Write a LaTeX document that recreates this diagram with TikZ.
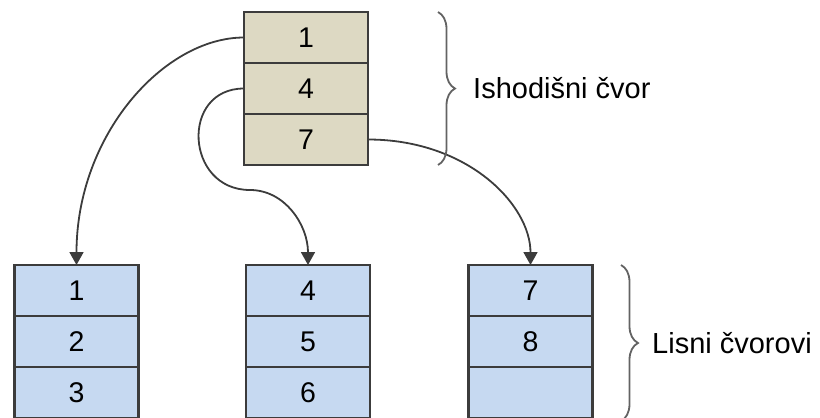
\documentclass[tikz,border=0pt]{standalone}
\usepackage{fontspec}
\setmainfont{Liberation Sans}
\usepackage{tikz}
\usetikzlibrary{positioning, calc, arrows.meta}
\usetikzlibrary{decorations.pathreplacing}
\definecolor{rubcrta}{HTML}{3C3C3C}
\definecolor{korijen}{HTML}{DDD9C3}
\definecolor{list}{HTML}{C6D9F1}

\begin{document}
\begin{tikzpicture}[x=1pt, y=-1pt,
                celija/.style={draw=rubcrta, line width=2.2pt, minimum width=124pt, minimum height=51pt, inner sep=0pt, outer sep=0pt, font=\fontsize{28.5}{33}\selectfont},
                gornja/.style={celija, fill=korijen},
                donja/.style={celija, fill=list},
                veza/.style={draw=rubcrta, line width=1.8pt, -{Triangle[length=13pt,width=14pt]}},
                zagrada/.style={draw=rubcrta!80, line width=1.8pt, decorate, decoration={brace, amplitude=17pt}},
                opis/.style={anchor=west, inner sep=0pt, font=\fontsize{29}{34}\selectfont}]
                \useasboundingbox (0,0) rectangle (820,418);
                \node[gornja] (i1) at (306,37.5) {1};
                \node[gornja, below=0pt of i1] (i4) {4};
                \node[gornja, below=0pt of i4] (i7) {7};
                \node[donja] (l1) at (76.5,290.5) {1};
                \node[donja, below=0pt of l1] (l2) {2};
                \node[donja, below=0pt of l2] (l3) {3};
                \node[donja] (m4) at (308,290.5) {4};
                \node[donja, below=0pt of m4] (m5) {5};
                \node[donja, below=0pt of m5] (m6) {6};
                \node[donja] (r7) at (530.5,290.5) {7};
                \node[donja, below=0pt of r7] (r8) {8};
                \node[donja, below=0pt of r8] (r9) {};
                \coordinate (savij) at (250,190);
                \draw[veza] (i1.west) .. controls +(-80,0) and +(0,-130) .. (l1.north);
                \draw[veza] (i4.west) .. controls +(-64,0) and +(-65,0) .. (savij) .. controls +(35,0) and +(0,-40) .. (m4.north);
                \draw[veza] (i7.east) .. controls +(100,0) and +(0,-60) .. (r7.north);
                \draw[zagrada] (438,12) -- (438,165);
                \node[opis] (ishodisni) at (473,88) {Ishodišni čvor};
                \draw[zagrada] (621,265) -- (621,421);
                \node[opis] (lisni) at (652,343) {Lisni čvorovi};
            \end{tikzpicture}
\end{document}
